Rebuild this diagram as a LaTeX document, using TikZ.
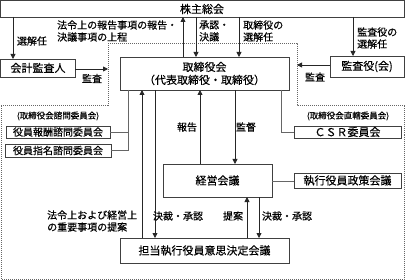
\documentclass[tikz,border=0pt]{standalone}
\usepackage{fontspec}
\setmainfont{Noto Sans CJK JP}[FakeBold=0.35]
\usetikzlibrary{arrows.meta}
\tikzset{
  box/.style={draw=black!75, line width=0.8pt, fill=white, inner sep=0pt},
  boxtext/.style={font=\fontsize{11}{13}\selectfont, inner sep=0pt},
  lbl/.style={font=\fontsize{10}{12}\selectfont, inner sep=0pt, align=left},
  small/.style={font=\fontsize{8.5}{10}\selectfont, inner sep=0pt},
  arr/.style={draw=black!85, line width=0.8pt, -{Triangle[length=5pt,width=5pt]}},
  conn/.style={draw=black!60, line width=0.8pt},
  region/.style={draw=black!60, line width=0.6pt, dash pattern=on 1pt off 1pt}
}
\begin{document}
\begin{tikzpicture}[x=1pt,y=-1pt]
\useasboundingbox (0,0) rectangle (406,280);
% dotted region
\draw[region] (108,43) -- (297,43) -- (297,105) -- (404.5,105) -- (404.5,279) -- (1,279) -- (1,105) -- (108,105) -- cycle;
% boxes
\draw[box] (0.5,0.5) rectangle (404.5,17);
\node[boxtext] (sh) at (202,9) {株主総会};
\draw[box] (0.5,59) rectangle (75,77);
\node[boxtext] (kk) at (38,68) {会計監査人};
\draw[box] (120,57) rectangle (289,90);
\node[boxtext, align=center] (tr) at (204.5,73.5) {取締役会\\（代表取締役・取締役）};
\draw[box] (330,56) rectangle (404.5,77);
\node[boxtext] (ka) at (367,66.5) {監査役(会)};
\draw[box] (6,126) rectangle (110,138);
\node[lbl] (hs) at (58,132) {役員報酬諮問委員会};
\draw[box] (5,144) rectangle (111,157);
\node[lbl] (ss) at (58,150.5) {役員指名諮問委員会};
\draw[box] (294,126) rectangle (401,138);
\node[boxtext] (csr) at (347.5,132) {ＣＳＲ委員会};
\draw[box] (163,164) rectangle (272,197);
\node[boxtext] (kei) at (217.5,180.5) {経営会議};
\draw[box] (294,173) rectangle (401,188);
\node[boxtext] (sik) at (347.5,180.5) {執行役員政策会議};
\draw[box] (120,238) rectangle (289,263);
\node[boxtext] (tan) at (204.5,250.5) {担当執行役員意思決定会議};
% arrows top
\draw[arr] (13,17) -- (13,59);
\draw[arr] (75,69) -- (108,69);
\draw[arr] (183,57) -- (183,17);
\draw[arr] (196,17) -- (196,57);
\draw[arr] (239,17) -- (239,57);
\draw[arr] (353,17) -- (353,56);
\draw[arr] (330,65) -- (297,65);
% middle
\draw[arr] (142,238) -- (142,90);
\draw[arr] (155,90) -- (155,238);
\draw[arr] (200,164) -- (200,90);
\draw[arr] (235,90) -- (235,164);
\draw[arr] (247,238) -- (247,197);
\draw[arr] (259,197) -- (259,238);
% connectors
\draw[conn] (128,90) -- (128,150) -- (111,150);
\draw[conn] (128,132) -- (110,132);
\draw[conn] (281,90) -- (281,132) -- (294,132);
\draw[conn] (272,181) -- (294,181);
% labels
\node[lbl] (l1) at (32,41) {選解任};
\node[lbl] (l2) at (92,78.5) {監査};
\node[lbl, anchor=west] (l3) at (57,31) {法令上の報告事項の報告・\\決議事項の上程};
\node[lbl, anchor=west] (l4) at (199,31) {承認・\\決議};
\node[lbl, anchor=west] (l5) at (243,31) {取締役の\\選解任};
\node[lbl, anchor=west] (l6) at (357,38) {監査役の\\選解任};
\node[lbl] (l7) at (315,77) {監査};
\node[small] (l8) at (58,116) {(取締役会諮問委員会)};
\node[small] (l9) at (348,116) {(取締役会直轄委員会)};
\node[lbl] (l10) at (187,127) {報告};
\node[lbl] (l11) at (246,127) {監督};
\node[lbl, anchor=west] (l12) at (47,221) {法令上および経営上\\の重要事項の提案};
\node[lbl] (l13) at (178,216) {決裁・承認};
\node[lbl] (l14) at (233,216) {提案};
\node[lbl] (l15) at (287,216) {決裁・承認};
\end{tikzpicture}
\end{document}
